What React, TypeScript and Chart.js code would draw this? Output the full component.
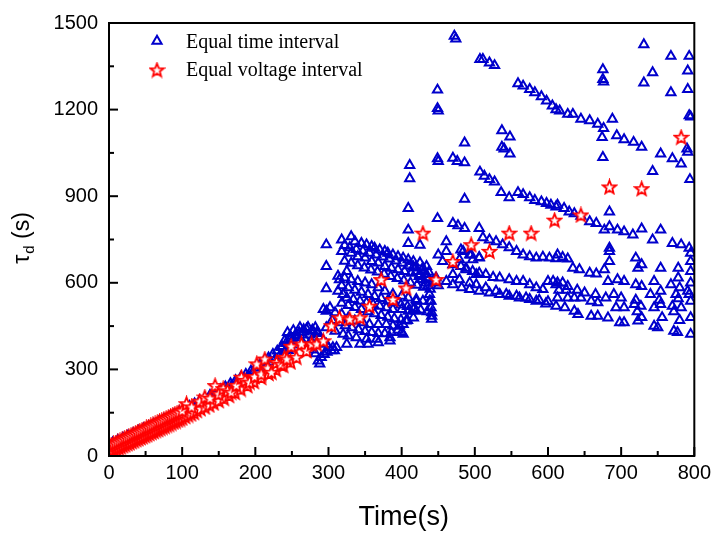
import React, { useEffect, useRef } from 'react';
import { Chart, registerables } from 'chart.js';

Chart.register(...registerables);

type P = [number, number];

// ---- axis ticks ----
const xMajorTicks = [0, 100, 200, 300, 400, 500, 600, 700, 800];
const xMinorTicks = [50, 150, 250, 350, 450, 550, 650, 750];
const yMajorTicks = [0, 300, 600, 900, 1200, 1500];
const yMinorTicks = [150, 450, 750, 1050, 1350];

// ---- Equal time interval (blue triangles): [time s, tau_d s] ----
const blueEarly: P[] = [
  [3, 28], [7, 33], [11, 38], [15, 43], [19, 48], [23, 53], [27, 58], [31, 63], [35, 68], [39, 73],
  [43, 78], [47, 83], [51, 88], [55, 93], [59, 98], [63, 103], [67, 108], [71, 113], [75, 118], [79, 123],
  [83, 128], [87, 133], [91, 138], [95, 143], [99, 148], [104, 155], [109, 161], [114, 168], [119, 174],
  [124, 181], [129, 188], [134, 194], [139, 201], [144, 208], [149, 215], [155, 223], [161, 232], [167, 240],
  [173, 249], [179, 258], [185, 267], [191, 276], [197, 286], [203, 296], [209, 306], [215, 316], [221, 326],
  [227, 336], [233, 346], [239, 356], [245, 366],
];
const blueEarlyUpper: P[] = [
  [5, 46], [12, 54], [19, 62], [26, 70], [33, 78], [40, 86], [47, 94], [54, 102], [61, 110], [68, 118],
  [75, 127], [82, 135], [89, 144], [96, 153], [103, 163], [110, 172], [117, 181], [124, 191], [131, 200],
  [138, 210], [145, 220], [152, 230], [159, 240], [166, 251], [173, 261], [180, 272], [187, 283], [194, 294],
  [200, 305], [206, 316], [212, 328], [218, 340], [224, 352], [230, 364], [236, 376], [242, 390], [248, 404],
  [254, 416], [260, 428], [266, 438], [272, 446], [278, 436], [284, 428],
];
const blueCluster: P[] = [
  [236, 380], [240, 400], [244, 428], [248, 415], [252, 435], [256, 420], [261, 445], [266, 430], [270, 440],
  [274, 420], [278, 433], [282, 445], [286, 425], [288, 410], [293, 399], [297, 388], [300, 376], [304, 365],
  [308, 365], [306, 376], [286, 330], [288, 319], [290, 342], [294, 352], [298, 360], [282, 355], [278, 368],
  [272, 378], [266, 388], [260, 395], [254, 385], [248, 375], [242, 365], [268, 405], [276, 398], [284, 392],
  [258, 410], [250, 398],
];
const blueFan1: P[] = [
  [297, 732], [318, 749], [331, 760], [336, 743], [345, 737], [352, 732], [359, 726], [363, 720], [370, 714],
  [377, 709], [381, 703], [388, 697], [395, 691], [402, 686], [409, 680], [416, 674], [425, 669], [434, 657],
];
const blueFan2: P[] = [
  [297, 657], [318, 709], [331, 703], [340, 691], [350, 686], [359, 674], [368, 669], [377, 657], [386, 651],
  [395, 646], [404, 640], [413, 634], [425, 629], [434, 617], [443, 605],
];
const blueFan3: P[] = [
  [297, 580], [325, 640], [313, 623], [315, 611], [322, 617], [331, 611], [340, 605], [350, 600], [359, 594],
  [368, 583], [377, 571], [388, 560], [400, 554], [409, 548], [420, 543], [429, 537], [438, 537],
];
const blueFan4: P[] = [
  [297, 502], [313, 571], [320, 560], [325, 548], [334, 543], [343, 537], [352, 531], [361, 525], [370, 519],
  [379, 514], [388, 508], [400, 508], [409, 502], [420, 502], [420, 537],
];
const blueFan5: P[] = [
  [293, 508], [302, 514], [309, 497], [318, 491], [327, 479], [336, 468], [347, 462], [356, 456], [368, 456],
  [379, 456], [388, 451], [397, 451], [406, 468], [416, 479],
];
const blueFan6: P[] = [
  [297, 445], [309, 433], [320, 422], [327, 416], [338, 410], [352, 405], [366, 405], [384, 410], [400, 428],
  [402, 456], [416, 508], [441, 485], [441, 474], [311, 376], [325, 388], [343, 388], [354, 388], [368, 393],
  [384, 399], [402, 422],
];
const blueFanInner: P[] = [
  [322, 730], [329, 722], [338, 716], [347, 710], [356, 703], [365, 697], [374, 690], [383, 683], [392, 676],
  [401, 668], [410, 660], [419, 652], [428, 645], [437, 637],
  [322, 675], [331, 668], [340, 660], [349, 652], [358, 645], [367, 638], [376, 630], [385, 622], [394, 615],
  [403, 608], [412, 600], [421, 592], [430, 585], [439, 578],
  [318, 590], [327, 583], [336, 575], [345, 568], [354, 560], [363, 553], [372, 546], [381, 538], [390, 531],
  [399, 524], [408, 518], [417, 512], [426, 506], [435, 500],
  [318, 530], [327, 522], [336, 515], [345, 508], [354, 500], [363, 493], [372, 487], [381, 481], [390, 476],
  [399, 472], [408, 470],
  [305, 470], [314, 462], [323, 452], [332, 445], [341, 438], [350, 432], [359, 428], [368, 425], [377, 424],
  [386, 428], [395, 436],
];
const bluePeak: P[] = [
  [411, 1007], [411, 961], [409, 858], [409, 783], [409, 737], [425, 731], [429, 651], [434, 629], [440, 514],
  [441, 497], [440, 537], [438, 560], [436, 590], [432, 600], [428, 612], [424, 622], [420, 640], [416, 655],
  [445, 600], [450, 590],
];
const blueTop: P[] = [
  [449, 1268], [449, 1204], [450, 1196], [472, 1455], [474, 1445], [507, 1374], [511, 1374], [520, 1362],
  [527, 1353], [559, 1290], [566, 1282], [575, 1270], [582, 1259], [591, 1245], [598, 1230], [606, 1213],
  [611, 1200], [616, 1196], [627, 1184], [634, 1184], [645, 1167], [657, 1162], [668, 1150], [676, 1135],
  [688, 1167], [675, 1339], [675, 1305], [676, 1296], [731, 1425], [743, 1328], [731, 1293], [768, 1385],
  [793, 1385], [791, 1334], [768, 1259], [791, 1270], [793, 1179], [795, 1175],
];
const blueUpper2: P[] = [
  [486, 1085], [537, 1127], [548, 1106], [537, 1070], [540, 1064], [548, 1047], [674, 1104], [694, 1110],
  [704, 1096], [717, 1087], [728, 1070], [754, 1047], [770, 1030], [782, 1012], [790, 1064], [791, 1053],
  [675, 1035], [449, 1030], [450, 1021], [470, 1032], [476, 1021], [486, 1016], [507, 984], [513, 970],
  [520, 958], [527, 950], [743, 986], [794, 958],
];
const blueMid1: P[] = [
  [486, 890], [536, 913], [547, 895], [559, 913], [566, 906], [575, 895], [582, 886], [591, 881], [598, 875],
  [604, 869], [611, 863], [613, 869], [622, 858], [629, 846], [636, 840], [645, 831], [657, 812], [666, 806],
  [677, 783], [684, 795], [684, 846], [695, 783], [704, 777], [716, 766], [728, 787], [743, 749], [754, 783],
  [449, 823], [470, 806], [477, 798], [486, 789], [506, 789],
];
const blueMid2: P[] = [
  [770, 737], [782, 732], [793, 720], [511, 757], [520, 749], [529, 743], [538, 732], [547, 722], [557, 709],
  [566, 697], [575, 691], [584, 686], [593, 689], [602, 686], [611, 684], [613, 697], [620, 688], [627, 683],
  [634, 651], [643, 646], [657, 634], [666, 631], [677, 646], [684, 674], [684, 720], [684, 709], [720, 686],
  [723, 651], [728, 663], [754, 651], [778, 651], [778, 617], [795, 703], [795, 674], [461, 743], [461, 709],
  [450, 697], [484, 709], [493, 697], [497, 680], [506, 688], [481, 714], [495, 697], [506, 686],
];
const blueMid3: P[] = [
  [479, 680], [488, 651], [502, 629], [515, 629], [525, 619], [534, 617], [547, 611], [557, 605], [566, 605],
  [575, 594], [584, 583], [593, 577], [600, 605], [607, 605], [611, 594], [613, 600], [620, 600], [627, 588],
  [682, 605], [695, 611], [704, 605], [720, 594], [728, 588], [745, 605], [754, 571], [768, 594], [780, 583],
  [791, 571], [456, 674], [470, 663], [481, 657], [488, 646], [497, 640], [506, 634],
];
const blueLow1: P[] = [
  [447, 617], [461, 605], [470, 594], [482, 583], [493, 577], [506, 571], [520, 565], [534, 560], [547, 554],
  [561, 548], [575, 543], [588, 540], [600, 535], [613, 548], [627, 548], [636, 548], [645, 548], [659, 537],
  [668, 531], [679, 548], [693, 514], [704, 514], [718, 525], [727, 519], [745, 514], [754, 525], [770, 519],
  [782, 514], [795, 537],
];
const blueLow2: P[] = [
  [470, 629], [479, 611], [493, 600], [502, 594], [515, 583], [529, 571], [543, 560], [557, 554], [570, 548],
  [584, 537], [597, 527], [611, 519], [623, 514], [636, 502], [641, 491], [659, 485], [668, 485], [682, 479],
  [698, 462], [704, 462], [723, 468], [745, 450], [750, 445], [772, 433], [777, 428], [795, 422],
];
const blueRightStacks: P[] = [
  [720, 540], [722, 500], [728, 480], [752, 540], [756, 480], [772, 500], [775, 560], [780, 470], [778, 545],
  [795, 480], [795, 600], [795, 640], [793, 560], [740, 560], [700, 548], [690, 560], [665, 560], [650, 565],
  [640, 575], [625, 575], [615, 575],
];

// ---- Equal voltage interval (red stars): [time s, tau_d s] ----
const redLowerRow: P[] = [
  [1, 14], [4, 18], [7, 22], [10, 25], [13, 29], [16, 32], [19, 36], [22, 39], [25, 43], [28, 46], [31, 50],
  [34, 53], [37, 57], [40, 60], [43, 64], [46, 67], [49, 71], [52, 74], [55, 78], [58, 82], [61, 85], [64, 89],
  [67, 92], [70, 96], [73, 100], [76, 103], [79, 107], [82, 110], [85, 114], [88, 118], [91, 121], [94, 125],
  [97, 128], [100, 132], [104, 137], [108, 142], [112, 146], [116, 151], [120, 158], [125, 164], [131, 170],
  [137, 177], [143, 184], [150, 192], [157, 200], [164, 210], [172, 220], [180, 232], [189, 244], [198, 258],
  [208, 272], [218, 286], [228, 300], [238, 314], [248, 326],
];
const redUpperRow: P[] = [
  [0, 34], [3, 38], [6, 42], [9, 45], [12, 49], [15, 53], [18, 56], [21, 60], [24, 64], [27, 67], [30, 71],
  [33, 75], [36, 78], [39, 82], [42, 86], [45, 89], [48, 93], [51, 97], [54, 100], [57, 104], [60, 108],
  [63, 111], [66, 115], [69, 119], [72, 122], [75, 126], [78, 130], [81, 133], [84, 137], [87, 141], [90, 145],
  [93, 148], [96, 152], [100, 157],
];
const redSparse: P[] = [
  [106, 181], [113, 170], [124, 190], [131, 204], [138, 200], [145, 244], [150, 215], [156, 233], [162, 226],
  [167, 221], [174, 245], [181, 273], [186, 262], [192, 256], [199, 275], [202, 319], [208, 284], [213, 336],
  [217, 305], [222, 290], [229, 324], [235, 318], [240, 342], [243, 336], [249, 380], [256, 342], [263, 388],
  [270, 365], [277, 388], [284, 388], [293, 399], [304, 451], [315, 479], [329, 474], [343, 479], [356, 519],
  [372, 611], [388, 542], [406, 582], [429, 772], [447, 611], [470, 674], [495, 732], [520, 709], [547, 772],
  [577, 772], [609, 817], [645, 835], [684, 932], [728, 926], [782, 1104],
];

const blueSeries: P[][] = [
  blueEarly, blueEarlyUpper, blueCluster, blueFan1, blueFan2, blueFan3, blueFan4, blueFan5, blueFan6,
  blueFanInner, bluePeak, blueTop, blueUpper2, blueMid1, blueMid2, blueMid3, blueLow1, blueLow2, blueRightStacks,
];
const redSeries: P[][] = [redLowerRow, redUpperRow, redSparse];

const BLUE = '#0000CC';
const RED = '#FF0000';
const SANS = '"Liberation Sans", Arial, sans-serif';
const SERIF = '"Liberation Serif", "Times New Roman", serif';
const TRI_R = 5.3;
const TRI_W = 2;

function makeStar(): HTMLCanvasElement {
  const c = document.createElement('canvas');
  c.width = 17;
  c.height = 17;
  const g = c.getContext('2d')!;
  const cx = 8.5, cy = 9, R = 7, r = 3;
  g.beginPath();
  for (let i = 0; i < 10; i++) {
    const ang = -Math.PI / 2 + (i * Math.PI) / 5;
    const rr = i % 2 === 0 ? R : r;
    const px = cx + rr * Math.cos(ang);
    const py = cy + rr * Math.sin(ang);
    if (i === 0) g.moveTo(px, py);
    else g.lineTo(px, py);
  }
  g.closePath();
  g.fillStyle = '#ffffff';
  g.fill();
  g.lineWidth = 1.8;
  g.strokeStyle = RED;
  g.stroke();
  return c;
}

export default function App() {
  const ref = useRef<HTMLCanvasElement | null>(null);

  useEffect(() => {
    if (!ref.current) return;
    const star = makeStar();
    const toXY = (groups: P[][]) => groups.flat().map(([x, y]) => ({ x, y }));

    const decor = {
      id: 'decor',
      afterDraw(chart: any) {
        const { ctx, chartArea: a, scales } = chart;
        const xs = scales.x;
        const ys = scales.y;
        ctx.save();
        ctx.strokeStyle = '#000';
        ctx.lineWidth = 2;
        ctx.strokeRect(a.left, a.top, a.right - a.left, a.bottom - a.top);
        const seg = (x1: number, y1: number, x2: number, y2: number) => {
          ctx.beginPath();
          ctx.moveTo(x1, y1);
          ctx.lineTo(x2, y2);
          ctx.stroke();
        };
        xMajorTicks.forEach((v) => { const p = xs.getPixelForValue(v); seg(p, a.bottom, p, a.bottom - 9); });
        xMinorTicks.forEach((v) => { const p = xs.getPixelForValue(v); seg(p, a.bottom, p, a.bottom - 5); });
        yMajorTicks.forEach((v) => { const p = ys.getPixelForValue(v); seg(a.left, p, a.left + 9, p); });
        yMinorTicks.forEach((v) => { const p = ys.getPixelForValue(v); seg(a.left, p, a.left + 5, p); });

        // x title
        ctx.fillStyle = '#000';
        ctx.font = `27px ${SANS}`;
        ctx.textAlign = 'center';
        ctx.textBaseline = 'alphabetic';
        ctx.fillText('Time(s)', (a.left + a.right) / 2 + 2, 525);

        // y title with subscript
        ctx.save();
        ctx.font = `23px ${SANS}`;
        const wT = ctx.measureText('τ').width;
        const wS = ctx.measureText(' (s)').width;
        ctx.font = `15px ${SANS}`;
        const wD = ctx.measureText('d').width;
        const total = wT + 1 + wD + wS;
        ctx.translate(29, 238 + total / 2);
        ctx.rotate(-Math.PI / 2);
        ctx.textAlign = 'left';
        ctx.font = `23px ${SANS}`;
        ctx.fillText('τ', 0, 0);
        ctx.font = `15px ${SANS}`;
        ctx.fillText('d', wT + 1, 5);
        ctx.font = `23px ${SANS}`;
        ctx.fillText(' (s)', wT + 1 + wD, 0);
        ctx.restore();

        // legend
        const tx = 157, ty = 41;
        ctx.strokeStyle = BLUE;
        ctx.lineWidth = TRI_W;
        ctx.beginPath();
        let rad = 0;
        ctx.moveTo(tx + Math.sin(rad) * TRI_R, ty - Math.cos(rad) * TRI_R);
        rad += (2 * Math.PI) / 3;
        ctx.lineTo(tx + Math.sin(rad) * TRI_R, ty - Math.cos(rad) * TRI_R);
        rad += (2 * Math.PI) / 3;
        ctx.lineTo(tx + Math.sin(rad) * TRI_R, ty - Math.cos(rad) * TRI_R);
        ctx.closePath();
        ctx.stroke();
        ctx.drawImage(star, 157 - star.width / 2, 70 - star.height / 2);
        ctx.fillStyle = '#000';
        ctx.font = `20px ${SERIF}`;
        ctx.textAlign = 'left';
        ctx.fillText('Equal time interval', 186, 48);
        ctx.fillText('Equal voltage interval', 186, 76);
        ctx.restore();
      },
    };

    const chart = new Chart(ref.current, {
      type: 'scatter',
      data: {
        datasets: [
          {
            label: 'Equal time interval',
            data: toXY(blueSeries),
            pointStyle: 'triangle',
            pointRadius: TRI_R,
            pointBorderWidth: TRI_W,
            borderColor: BLUE,
            backgroundColor: 'rgba(0,0,0,0)',
            order: 2,
            clip: 0,
          },
          {
            label: 'Equal voltage interval',
            data: toXY(redSeries),
            pointStyle: star as any,
            pointRadius: 7,
            borderColor: RED,
            backgroundColor: '#fff',
            order: 1,
            clip: 0,
          },
        ],
      },
      options: {
        responsive: false,
        animation: false,
        events: [],
        layout: { padding: { left: 0, right: 21, top: 20, bottom: 0 } },
        plugins: { legend: { display: false }, tooltip: { enabled: false } },
        scales: {
          x: {
            type: 'linear',
            min: 0,
            max: 800,
            afterFit: (s: any) => { s.height = 77; },
            ticks: {
              stepSize: 100,
              autoSkip: false,
              maxRotation: 0,
              padding: 5,
              color: '#000',
              font: { family: SANS, size: 20 },
              callback: (v: any) => String(v),
            },
            grid: { display: false, drawTicks: false },
            border: { display: false },
          },
          y: {
            type: 'linear',
            min: 0,
            max: 1500,
            afterFit: (s: any) => { s.width = 109; },
            ticks: {
              stepSize: 300,
              autoSkip: false,
              padding: 11,
              color: '#000',
              font: { family: SANS, size: 20 },
              callback: (v: any) => String(v),
            },
            grid: { display: false, drawTicks: false },
            border: { display: false },
          },
        },
      },
      plugins: [decor],
    });
    return () => chart.destroy();
  }, []);

  return (
    <div style={{ position: 'fixed', left: 0, top: 0, width: 716, height: 533, background: '#fff' }}>
      <canvas ref={ref} width={716} height={533} />
    </div>
  );
}
